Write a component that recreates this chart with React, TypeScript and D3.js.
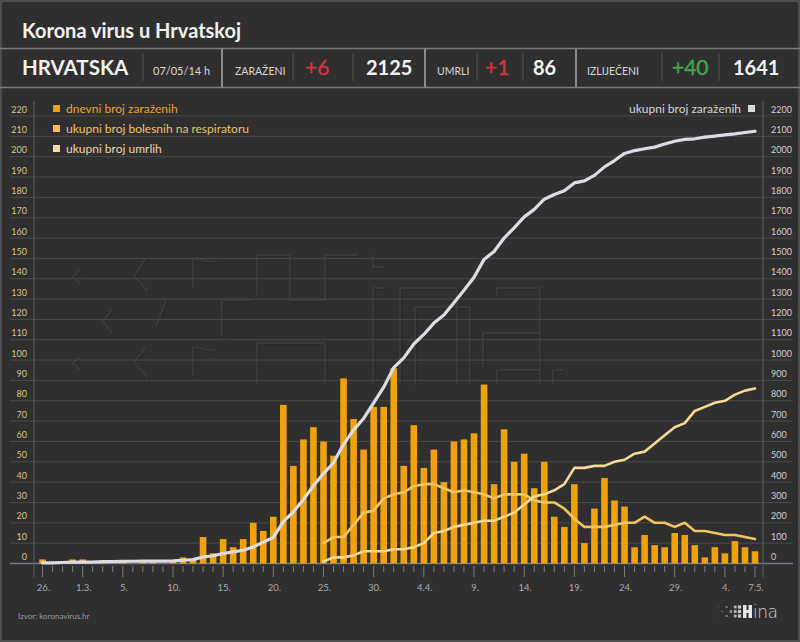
import React from "react";
import * as d3 from "d3";

// dates (categories) from 26.2. to 7.5.2020
const dates = [
  "26.2.", "27.2.", "28.2.", "29.2.",
  "1.3.", "2.3.", "3.3.", "4.3.", "5.3.", "6.3.", "7.3.", "8.3.", "9.3.", "10.3.",
  "11.3.", "12.3.", "13.3.", "14.3.", "15.3.", "16.3.", "17.3.", "18.3.", "19.3.", "20.3.",
  "21.3.", "22.3.", "23.3.", "24.3.", "25.3.", "26.3.", "27.3.", "28.3.", "29.3.", "30.3.", "31.3.",
  "1.4.", "2.4.", "3.4.", "4.4.", "5.4.", "6.4.", "7.4.", "8.4.", "9.4.", "10.4.",
  "11.4.", "12.4.", "13.4.", "14.4.", "15.4.", "16.4.", "17.4.", "18.4.", "19.4.", "20.4.",
  "21.4.", "22.4.", "23.4.", "24.4.", "25.4.", "26.4.", "27.4.", "28.4.", "29.4.", "30.4.",
  "1.5.", "2.5.", "3.5.", "4.5.", "5.5.", "6.5.", "7.5.",
];

// dnevni broj zaraženih
const dailyCases = [
  2, 0, 0, 2, 2, 0, 1, 0, 1, 0, 1, 1, 0, 1, 3, 2, 13, 5, 12, 8, 12, 20, 16, 23,
  78, 48, 61, 67, 60, 53, 91, 71, 56, 77, 77, 96, 48, 68, 47, 56, 40, 60, 61, 64,
  88, 39, 66, 50, 54, 37, 50, 23, 18, 39, 10, 27, 42, 31, 28, 8, 14, 9, 8, 15,
  14, 9, 3, 8, 5, 11, 8, 6,
];

// ukupni broj zaraženih (right axis)
const totalCases = [
  3, 3, 5, 7, 7, 7, 9, 9, 10, 11, 12, 12, 12, 13, 16, 19, 32, 38, 49, 57, 65, 81,
  105, 128, 206, 254, 315, 382, 442, 495, 586, 657, 713, 790, 867, 963, 1011,
  1079, 1126, 1182, 1222, 1282, 1343, 1407, 1495, 1534, 1600, 1650, 1704, 1741,
  1791, 1814, 1832, 1871, 1881, 1908, 1950, 1981, 2016, 2030, 2039, 2047, 2062,
  2076, 2085, 2088, 2096, 2101, 2107, 2112, 2119, 2125,
];

// ukupni broj bolesnih na respiratoru (from 25.3.)
const respirator: (number | null)[] = [
  null, null, null, null, null, null, null, null, null, null, null, null, null, null,
  null, null, null, null, null, null, null, null, null, null, null, null, null, null,
  10, 13, 13, 19, 25, 26, 32, 34, 35, 38, 39, 39, 37, 35, 36, 35, 34, 32, 34, 34,
  34, 31, 30, 30, 27, 22, 18, 18, 18, 19, 20, 20, 23, 20, 20, 18, 20, 16, 16, 15,
  14, 14, 13, 12,
];

// ukupni broj umrlih (from 25.3.)
const deaths: (number | null)[] = [
  null, null, null, null, null, null, null, null, null, null, null, null, null, null,
  null, null, null, null, null, null, null, null, null, null, null, null, null, null,
  1, 3, 3, 4, 6, 6, 6, 7, 7, 8, 10, 15, 16, 18, 19, 20, 21, 21, 23, 25, 29, 33,
  34, 36, 39, 47, 47, 48, 48, 50, 51, 54, 55, 59, 63, 67, 69, 75, 77, 79, 80, 83,
  85, 86,
];

const tickDates = [
  "26.2.", "1.3.", "5.3.", "10.3.", "15.3.", "20.3.", "25.3.", "30.3.",
  "4.4.", "9.4.", "14.4.", "19.4.", "24.4.", "29.4.", "4.5.", "7.5.",
];
const tickLabels = [
  "26.", "1.3.", "5.", "10.", "15.", "20.", "25.", "30.",
  "4.4.", "9.", "14.", "19.", "24.", "29.", "4.", "7.5.",
];

const statLabels = ["ZARAŽENI", "UMRLI", "IZLIJEČENI"];
const statDeltas = ["+6", "+1", "+40"];
const statTotals = ["2125", "86", "1641"];

const W = 800;
const H = 642;
const BG = "#2f2f2f";
const FONT = "Lato, 'Open Sans', sans-serif";
const C_BAR = "#f0a20c";
const C_RESP = "#f4c463";
const C_DEATH = "#f7d899";
const C_TOTAL = "#dcdce4";

// header layout
const statX = [
  { label: 235, delta: 305, total: 366 },
  { label: 437, delta: 485, total: 533 },
  { label: 587, delta: 672, total: 733 },
];
const brightSeps = [222, 425, 576];
const dimSeps = [143, 293, 353, 477, 523, 662, 719];

// faint hina watermark in background
const watermark = [
  "M80,270 L73,277 L80,284",
  "M80,357 L73,363 L80,370",
  "M146,258 L134,276 L148,291",
  "M112,310 L103,321 L112,333",
  "M146,348 L134,362 L148,378",
  "M166,301 L156,327",
  "M193,288 V259 L215,262",
  "M193,376 V347 L215,351",
  "M222,336 V300 H252",
  "M257,295 V255 H290 V300 H325 V255 H358",
  "M257,385 V343 H325 V385",
  "M373,255 V267 H385",
  "M373,385 V288 H385",
  "M400,385 V288 H457 V385",
  "M415,385 V307 H470 V385",
  "M497,297 V288 H540 V385",
  "M483,367 V333 H540",
  "M497,385 V370 H540",
  "M553,385 V370 H563",
];

export default function App() {
  const x = d3.scalePoint<string>().domain(dates).range([42.5, 755]);
  const yL = d3.scaleLinear().domain([0, 220]).range([563.5, 116]);
  const yR = d3.scaleLinear().domain([0, 2200]).range([563.5, 116]);
  const barW = 6.6;

  const leftTicks = d3.range(0, 221, 10);
  const rightTicks = d3.range(0, 2201, 100);

  const lineL = d3
    .line<number | null>()
    .defined((d) => d !== null)
    .x((_, i) => x(dates[i])!)
    .y((d) => yL(d as number));
  const lineR = d3
    .line<number>()
    .x((_, i) => x(dates[i])!)
    .y((d) => yR(d));

  const legendLeft = [
    { text: "dnevni broj zaraženih", sq: C_BAR, col: "#e9a231" },
    { text: "ukupni broj bolesnih na respiratoru", sq: "#f3bf52", col: "#efc26a" },
    { text: "ukupni broj umrlih", sq: "#f6d9a4", col: "#f0d6a8" },
  ];

  // hina logo dots
  const logoDots: { cx: number; cy: number; s: number; o: number }[] = [];
  for (let c = 0; c < 6; c++) {
    for (let r = 0; r < 3; r++) {
      if ((c + r) % 2 === 1 && c < 4) continue;
      logoDots.push({
        cx: 718 + c * 4.3,
        cy: 607 + r * 4.5,
        s: 1 + c * 0.45,
        o: 0.35 + c * 0.12,
      });
    }
  }

  return (
    <svg
      width={W}
      height={H}
      viewBox={`0 0 ${W} ${H}`}
      style={{ position: "absolute", left: 0, top: 0, display: "block" }}
      fontFamily={FONT}
    >
      <rect x={0} y={0} width={W} height={H} fill={BG} />
      <rect x={1} y={1} width={W - 2} height={H - 2} fill="none" stroke="#4e4e4e" strokeWidth={2} />

      {/* header */}
      <text x={22} y={38} fontSize={20} fontWeight={700} fill="#f2f2f2">
        Korona virus u Hrvatskoj
      </text>
      <line x1={0} x2={W} y1={48.5} y2={48.5} stroke="#7b7b7b" strokeWidth={1.5} />
      <line x1={0} x2={W} y1={87.5} y2={87.5} stroke="#7b7b7b" strokeWidth={1.5} />
      {brightSeps.map((sx) => (
        <line key={sx} x1={sx} x2={sx} y1={49} y2={87} stroke="#8a8a8a" strokeWidth={2} />
      ))}
      {dimSeps.map((sx) => (
        <line key={sx} x1={sx} x2={sx} y1={53} y2={81} stroke="#555" strokeWidth={1} />
      ))}
      <text x={22} y={75} fontSize={20.5} fontWeight={700} fill="#f2f2f2">
        HRVATSKA
      </text>
      <text x={153} y={75} fontSize={11} fill="#d8d8d8">
        07/05/14 h
      </text>
      {statLabels.map((lab, i) => (
        <g key={lab}>
          <text x={statX[i].label} y={75} fontSize={10.5} fill="#d8d8d8">
            {lab}
          </text>
          <text
            x={statX[i].delta}
            y={75}
            fontSize={21}
            fill={i === 2 ? "#3fa84a" : "#d8303d"}
            stroke={i === 2 ? "#3fa84a" : "#d8303d"}
            strokeWidth={0.4}
          >
            {statDeltas[i]}
          </text>
          <text x={statX[i].total} y={75} fontSize={20} fontWeight={700} fill="#f2f2f2">
            {statTotals[i]}
          </text>
        </g>
      ))}

      {/* watermark */}
      <g fill="none" strokeWidth={2} strokeLinejoin="miter">
        {watermark.map((d, i) => (
          <path key={"s" + i} d={d} stroke="#2a2a2a" transform="translate(1.5,1.5)" />
        ))}
        {watermark.map((d, i) => (
          <path key={"w" + i} d={d} stroke="#393939" />
        ))}
      </g>

      {/* gridlines and axis labels */}
      {leftTicks.map((t) => (
        <line
          key={"g" + t}
          x1={10}
          x2={793}
          y1={yL(t)}
          y2={yL(t)}
          stroke={t === 0 ? "#75778a" : "#4b4b4b"}
          strokeWidth={t === 0 ? 1.3 : 1}
        />
      ))}
      {leftTicks.map((t) => (
        <text
          key={"l" + t}
          x={27}
          y={yL(t) - 3.5}
          fontSize={9}
          textAnchor="end"
          fill="#dcc189"
        >
          {t}
        </text>
      ))}
      {rightTicks.map((t) => (
        <text key={"r" + t} x={771} y={yR(t) - 3.5} fontSize={9} fill="#cfcfcf">
          {t}
        </text>
      ))}
      <line x1={34} x2={34} y1={101} y2={577} stroke="#565656" strokeWidth={1.3} />
      <line x1={763} x2={763} y1={101} y2={577} stroke="#565656" strokeWidth={1.3} />

      {/* x ticks */}
      {dates.map((d) => (
        <line
          key={"t" + d}
          x1={x(d)}
          x2={x(d)}
          y1={566}
          y2={tickDates.includes(d) ? 577 : 572}
          stroke="#7d7d86"
          strokeWidth={1}
        />
      ))}
      {tickDates.map((d, i) => (
        <text key={"tl" + d} x={x(d)! + 1} y={590.5} fontSize={9.5} textAnchor="middle" fill="#a9a9a9">
          {tickLabels[i]}
        </text>
      ))}

      {/* bars */}
      {dailyCases.map((v, i) => (
        <rect
          key={"b" + i}
          x={x(dates[i])! - barW / 2}
          y={yL(v)}
          width={barW}
          height={yL(0) - yL(v)}
          fill={C_BAR}
        />
      ))}

      {/* lines */}
      <path d={lineL(respirator) || ""} fill="none" stroke={C_RESP} strokeWidth={2.6} strokeLinejoin="round" strokeLinecap="round" />
      <path d={lineL(deaths) || ""} fill="none" stroke={C_DEATH} strokeWidth={2.6} strokeLinejoin="round" strokeLinecap="round" />
      <path d={lineR(totalCases) || ""} fill="none" stroke={C_TOTAL} strokeWidth={3.2} strokeLinejoin="round" strokeLinecap="round" />

      {/* legends */}
      {legendLeft.map((l, i) => (
        <g key={l.text} transform={`translate(53,${105 + i * 20})`}>
          <rect x={0} y={0} width={7} height={7} fill={l.sq} />
          <text x={13} y={8} fontSize={12} fill={l.col}>
            {l.text}
          </text>
        </g>
      ))}
      <text x={741} y={113} fontSize={12} textAnchor="end" fill="#d4d4d4">
        ukupni broj zaraženih
      </text>
      <rect x={748} y={105} width={7} height={7} fill="#dadada" />

      {/* footer */}
      <text x={18} y={619} fontSize={8} fill="#9a9a9a">
        Izvor: koronavirus.hr
      </text>
      <g>
        {logoDots.map((p, i) => (
          <rect
            key={"ld" + i}
            x={p.cx - p.s / 2}
            y={p.cy - p.s / 2}
            width={p.s}
            height={p.s}
            fill="#cfcfcf"
            opacity={p.o}
          />
        ))}
        <rect x={743} y={605} width={3.5} height={13} fill="#e6e6e6" />
        <rect x={748.5} y={605} width={3.5} height={13} fill="#e6e6e6" />
        <rect x={746} y={610} width={3} height={3} fill="#e6e6e6" />
        <text x={753} y={618} fontSize={17} fill="#cfcfcf" fontFamily="'DejaVu Sans', sans-serif" fontWeight={300} letterSpacing={-0.5}>
          ina
        </text>
      </g>
    </svg>
  );
}
